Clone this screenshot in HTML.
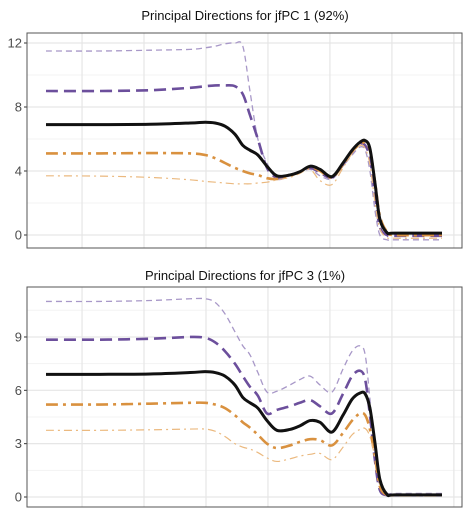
<!DOCTYPE html>
<html><head><meta charset="utf-8"><style>
body{margin:0;background:#fff;}
svg{display:block;font-family:"Liberation Sans",sans-serif;}
</style></head><body>
<svg id="chart" width="471" height="520"></svg>
<script>
const xs=[0,13.6,26.3,36.4,40.2,42.7,45.2,47.7,49.7,51.5,53.5,55.8,58.3,61.6,64.1,66.7,69.2,72.2,75.0,77.3,79.3,80.6,81.8,83.1,84.3,86.1,88.1,100];
const p1Mean=[6.9,6.9,6.92,7.0,7.05,7.0,6.8,6.3,5.6,5.3,5.0,4.3,3.7,3.75,3.95,4.3,4.1,3.65,4.5,5.3,5.8,5.9,5.4,3.2,1.0,0.15,0.12,0.12];
const p1PlusHi=[11.5,11.5,11.55,11.6,11.7,11.8,11.95,12.0,11.8,9.0,6.0,4.5,3.5,3.7,3.9,4.1,3.7,3.5,4.3,5.0,5.5,5.3,4.0,1.5,0.0,-0.3,-0.3,-0.3];
const p1PlusLo=[9.0,9.0,9.05,9.2,9.3,9.35,9.35,9.3,8.8,7.5,6.0,4.2,3.6,3.75,3.95,4.2,3.9,3.6,4.4,5.2,5.7,5.6,4.8,2.5,0.5,0.0,-0.05,-0.05];
const p1MinusLo=[5.1,5.1,5.12,5.1,5.0,4.8,4.5,4.2,4.0,3.85,3.75,3.55,3.5,3.7,3.95,4.25,4.0,3.6,4.4,5.2,5.7,5.75,5.3,3.3,1.2,0.2,0.0,0.0];
const p1MinusHi=[3.7,3.68,3.6,3.45,3.35,3.3,3.25,3.2,3.2,3.2,3.25,3.3,3.45,3.6,3.85,4.1,3.4,3.15,4.2,5.1,5.6,5.4,4.4,2.0,0.4,-0.15,-0.2,-0.2];
const p2Mean=[6.9,6.9,6.92,7.0,7.05,7.0,6.8,6.3,5.6,5.3,5.0,4.3,3.75,3.8,4.0,4.3,4.2,3.65,4.6,5.5,5.85,5.8,5.0,3.0,1.0,0.15,0.12,0.12];
const p2PlusHi=[11.0,11.0,11.05,11.15,11.15,10.95,10.3,9.3,8.5,8.0,7.0,5.9,5.95,6.3,6.6,6.8,6.3,5.9,7.2,8.2,8.5,8.0,5.5,2.5,0.5,0.2,0.2,0.2];
const p2PlusLo=[8.85,8.85,8.9,9.0,8.95,8.7,8.2,7.5,6.8,6.2,5.7,4.7,4.9,5.1,5.3,5.45,5.1,4.7,5.8,6.8,7.1,6.6,4.6,2.0,0.4,0.1,0.1,0.1];
const p2MinusLo=[5.2,5.2,5.25,5.3,5.3,5.2,5.0,4.6,4.2,3.9,3.5,3.0,2.75,2.9,3.1,3.25,3.2,2.9,3.6,4.3,4.7,4.6,3.8,2.2,0.6,0.1,0.1,0.1];
const p2MinusHi=[3.75,3.75,3.78,3.82,3.82,3.7,3.4,3.0,2.8,2.7,2.5,2.2,2.0,2.15,2.3,2.4,2.45,2.1,2.8,3.5,3.8,3.85,3.4,2.2,0.7,0.15,0.1,0.1];
const p1Ticks=[0,4,8,12], p1Minor=[2,6,10];
const p2Ticks=[0,3,6,9], p2Minor=[1.5,4.5,7.5,10.5];
const xGrid=[9.1,24.75,40.4,56.05,71.7,87.35,103];

const NS="http://www.w3.org/2000/svg";
const svg=document.getElementById('chart');
function mk(t,a,p){const e=document.createElementNS(NS,t);for(const k in a)e.setAttribute(k,a[k]);(p||svg).appendChild(e);return e;}
const sx=v=>46+v*3.96;
function smooth(pts){let d=`M${pts[0][0]},${pts[0][1]}`;for(let i=0;i<pts.length-1;i++){const p0=pts[Math.max(0,i-1)],p1=pts[i],p2=pts[i+1],p3=pts[Math.min(pts.length-1,i+2)];const t=6;d+=` C${p1[0]+(p2[0]-p0[0])/t},${p1[1]+(p2[1]-p0[1])/t} ${p2[0]-(p3[0]-p1[0])/t},${p2[1]-(p3[1]-p1[1])/t} ${p2[0]},${p2[1]}`;}return d;}
const styles=[
 {k:'plus-outer',c:'#a898c8',w:1.3,d:'6 4'},
 {k:'plus-inner',c:'#6c4f9c',w:2.6,d:'12 6'},
 {k:'minus-inner',c:'#d9913f',w:2.6,d:'12 5 3 5'},
 {k:'minus-outer',c:'#ebb97f',w:1.2,d:'8 4 2 4'},
 {k:'mean',c:'#111',w:3,d:''}];
function panel(o){
 const g=mk('g',{});  
 const sy=v=>o.y0-v*o.k;
 const t=mk('text',{x:245,y:o.titleY,'text-anchor':'middle','font-size':13,fill:'#111'},g);t.textContent=o.title;
 
 o.minor.forEach(v=>mk('line',{x1:27,x2:462,y1:sy(v),y2:sy(v),stroke:'#f3f3f3','stroke-width':1},g));
 o.ticks.forEach(v=>mk('line',{x1:27,x2:462,y1:sy(v),y2:sy(v),stroke:'#e6e6e6','stroke-width':1.2},g));
 xGrid.forEach(v=>mk('line',{x1:sx(v),x2:sx(v),y1:o.top,y2:o.bot,stroke:'#e6e6e6','stroke-width':1.2},g));
 o.ticks.forEach(v=>{mk('line',{x1:24,x2:27,y1:sy(v),y2:sy(v),stroke:'#333'},g);
  const l=mk('text',{x:22,y:sy(v)+4.5,'text-anchor':'end','font-size':13,fill:'#4d4d4d'},g);l.textContent=v;
  });
 o.series.forEach((s,i)=>{const st=styles[i];
  const p=mk('path',{d:smooth(xs.map((x,j)=>[sx(x),sy(s[j])])),fill:'none',stroke:st.c,'stroke-width':st.w,'stroke-dasharray':st.d,'stroke-linejoin':'round'},g);
  });
 const b=mk('rect',{x:27,y:o.top,width:435,height:o.bot-o.top,fill:'none',stroke:'#555','stroke-width':1},g);
 
}
panel({name:'panel-jfpc1',title:'Principal Directions for jfPC 1 (92%)',titleY:20,top:33,bot:248,y0:235,k:16,ticks:p1Ticks,minor:p1Minor,series:[p1PlusHi,p1PlusLo,p1MinusLo,p1MinusHi,p1Mean]});
panel({name:'panel-jfpc3',title:'Principal Directions for jfPC 3 (1%)',titleY:280,top:287,bot:507,y0:497,k:17.78,ticks:p2Ticks,minor:p2Minor,series:[p2PlusHi,p2PlusLo,p2MinusLo,p2MinusHi,p2Mean]});
</script>
</body></html>
